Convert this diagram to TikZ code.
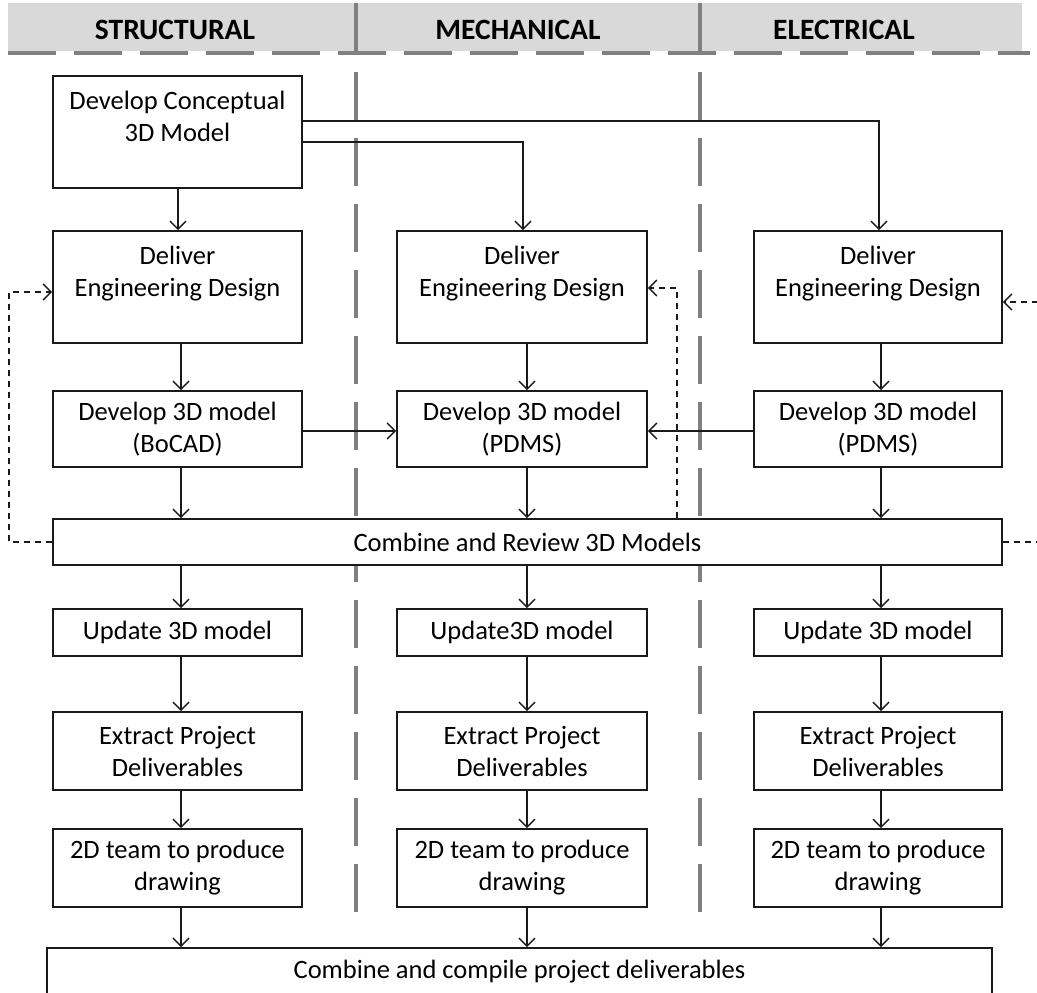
\documentclass[tikz,border=0pt]{standalone}
\usepackage{fontspec}
\setmainfont{Carlito}
\usetikzlibrary{arrows.meta,calc}
\definecolor{bandgray}{HTML}{D9D9D9}
\definecolor{lanegray}{HTML}{808080}
\definecolor{ink}{HTML}{1A1A1A}
\begin{document}
\begin{tikzpicture}[x=1pt,y=-1pt,
  box/.style={draw=ink, line width=1.6pt, fill=white, inner sep=0pt,
    align=center, text=black, font=\fontsize{26.5}{32}\selectfont},
  flow/.style={draw=ink, line width=1.5pt,
    -{Straight Barb[length=8pt,width=16pt,line width=1.5pt]}},
  back/.style={flow, dash pattern=on 6pt off 5pt},
  lane/.style={draw=lanegray, line width=4.5pt, dash pattern=on 48pt off 18pt},
  divider/.style={draw=lanegray, line width=4.5pt},
  head/.style={font=\fontsize{29.5}{34}\selectfont\bfseries, text=black}]
\useasboundingbox (0,0) rectangle (1037,993);
\clip (0,0) rectangle (1037,993);

% header band with discipline titles
\fill[bandgray] (8,3) rectangle (1022,51);
\draw[lane] (8,53) -- (1030,53);
\draw[divider] (356,3) -- (356,53);
\draw[divider] (700,3) -- (700,53);
\node[head] (hS) at (175,30) {STRUCTURAL};
\node[head] (hM) at (518,30) {MECHANICAL};
\node[head] (hE) at (844,30) {ELECTRICAL};

% swim lane separators
\draw[lane] (356,72) -- (356,913);
\draw[lane] (700,72) -- (700,913);

% process boxes
\node[box, minimum width=249pt, minimum height=112pt] (concept) at (177.5,132) {Develop Conceptual\\3D Model\\ };

\node[box, minimum width=249pt, minimum height=112pt] (delS) at (177.5,287) {Deliver\\Engineering Design\\ };
\node[box, minimum width=250pt, minimum height=112pt] (delM) at (522,287) {Deliver\\Engineering Design\\ };
\node[box, minimum width=248pt, minimum height=112pt] (delE) at (878,287) {Deliver\\Engineering Design\\ };

\node[box, minimum width=249pt, minimum height=76pt] (devS) at (177.5,429) {Develop 3D model\\(BoCAD)};
\node[box, minimum width=250pt, minimum height=76pt] (devM) at (522,429) {Develop 3D model\\(PDMS)};
\node[box, minimum width=248pt, minimum height=76pt] (devE) at (878,429) {Develop 3D model\\(PDMS)};

\node[box, minimum width=949pt, minimum height=46pt] (review) at (527.5,542) {Combine and Review 3D Models};

\node[box, minimum width=249pt, minimum height=47pt] (updS) at (177.5,632.5) {Update 3D model};
\node[box, minimum width=250pt, minimum height=47pt] (updM) at (522,632.5) {Update3D model};
\node[box, minimum width=248pt, minimum height=47pt] (updE) at (878,632.5) {Update 3D model};

\node[box, minimum width=249pt, minimum height=78pt] (extS) at (177.5,751) {Extract Project\\Deliverables};
\node[box, minimum width=250pt, minimum height=78pt] (extM) at (522,751) {Extract Project\\Deliverables};
\node[box, minimum width=248pt, minimum height=78pt] (extE) at (878,751) {Extract Project\\Deliverables};

\node[box, minimum width=249pt, minimum height=78pt] (twoS) at (177.5,868) {2D team to produce\\drawing};
\node[box, minimum width=250pt, minimum height=78pt] (twoM) at (522,868) {2D team to produce\\drawing};
\node[box, minimum width=248pt, minimum height=78pt] (twoE) at (878,868) {2D team to produce\\drawing};

\node[box, minimum width=945pt, minimum height=48pt] (compile) at (519.5,972) {Combine and compile project deliverables};

% conceptual model feeds every discipline
\draw[flow] ([xshift=0.5pt]concept.south) -- ([xshift=0.5pt]delS.north);
\draw[flow] ([yshift=-10pt]concept.east) -| ([xshift=1pt]delM.north);
\draw[flow] ([yshift=11pt]concept.east) -| ([xshift=1pt]delE.north);

% column flows
\foreach \col/\dx in {S/3.5, M/5, E/3}{
  \draw[flow] ([xshift=\dx pt]del\col.south) -- ([xshift=\dx pt]dev\col.north);
  \draw[flow] ([xshift=\dx pt]dev\col.south) -- ([xshift=\dx pt]review.north -| dev\col.south);
  \draw[flow] ([xshift=\dx pt]review.south -| upd\col.north) -- ([xshift=\dx pt]upd\col.north);
  \draw[flow] ([xshift=\dx pt]upd\col.south) -- ([xshift=\dx pt]ext\col.north);
  \draw[flow] ([xshift=\dx pt]ext\col.south) -- ([xshift=\dx pt]two\col.north);
  \draw[flow] ([xshift=\dx pt]two\col.south) -- ([xshift=\dx pt]compile.north -| two\col.north);
}

% structural and electrical models merge into the mechanical model
\draw[flow] ([yshift=-2pt]devS.east) -- ([yshift=-2pt]devM.west);
\draw[flow] ([yshift=-2pt]devE.west) -- ([yshift=-2pt]devM.east);

% review feedback loops
\coordinate (lx) at (9,0);
\coordinate (mx) at (677,0);
\coordinate (rx) at (1060,0);
\draw[back] (review.west) -- (review.west -| lx) |- ([yshift=-5pt]delS.west);
\draw[back] (review.north -| mx) |- ([yshift=-1pt]delM.east);
\draw[back] (review.east) -- (review.east -| rx) |- ([yshift=-15pt]delE.east);
\end{tikzpicture}
\end{document}
